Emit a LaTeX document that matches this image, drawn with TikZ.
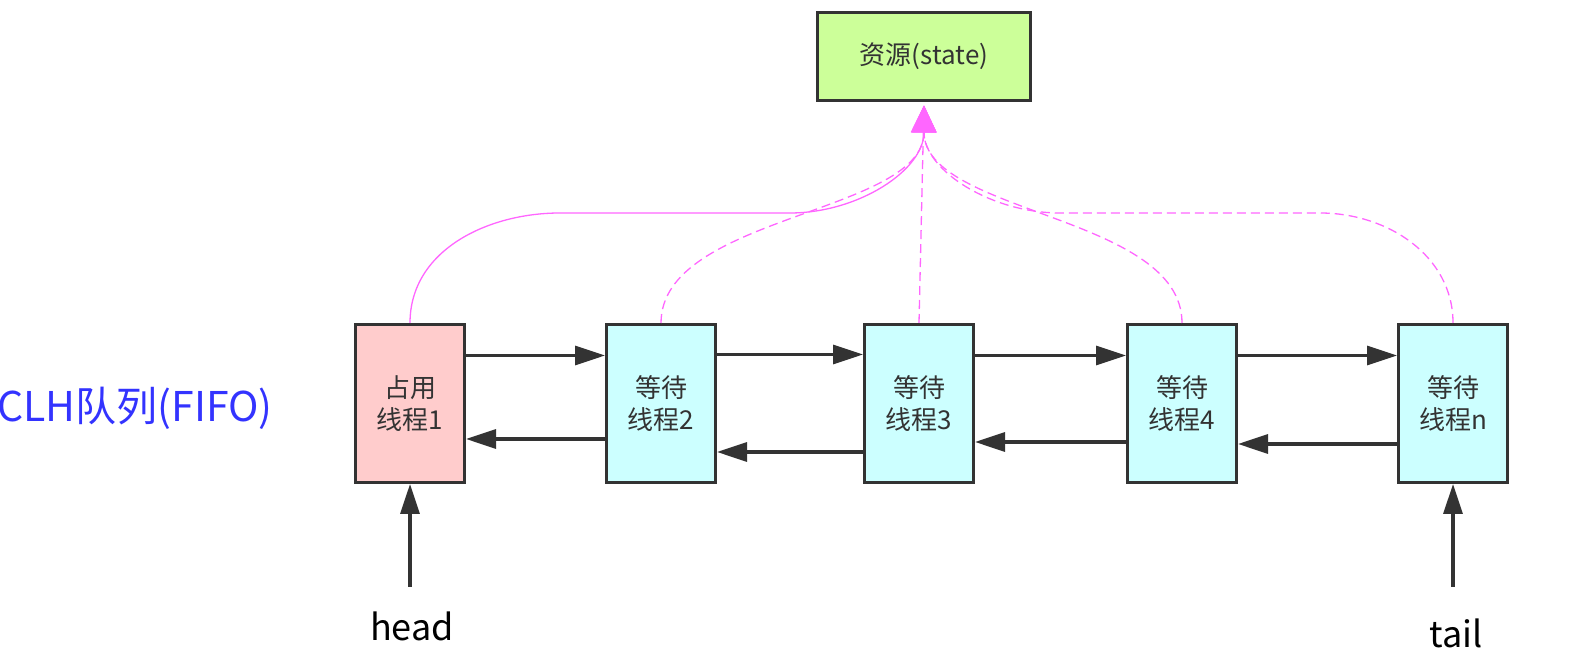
\documentclass[tikz,border=0pt]{standalone}
\usepackage{fontspec}
\newfontfamily\cjk{Noto Sans CJK SC}
\usepackage{xcolor}
\usepackage{tikz}
\usetikzlibrary{arrows.meta,positioning}
\definecolor{inkgray}{HTML}{333333}
\definecolor{occfill}{HTML}{FFCCCC}
\definecolor{waitfill}{HTML}{CCFFFF}
\definecolor{resfill}{HTML}{CCFF99}
\definecolor{claimpink}{HTML}{FF66FF}
\definecolor{queueblue}{HTML}{3333FF}

\begin{document}
\begin{tikzpicture}[
  x=0.5pt, y=-0.5pt,
  every node/.style={font=\cjk\fontsize{13}{16}\selectfont, text=inkgray},
  thread/.style={draw=inkgray, line width=1.5pt, align=center, minimum width=54.5pt, minimum height=79pt, inner sep=0pt},
  occbox/.style={thread, fill=occfill},
  waitbox/.style={thread, fill=waitfill},
  resbox/.style={draw=inkgray, line width=1.5pt, fill=resfill, minimum width=106.5pt, minimum height=44pt, inner sep=0pt},
  ptr/.style={-{Triangle[length=15pt,width=9.5pt]}, draw=inkgray, line width=1.6pt},
  claim/.style={-{Triangle[length=13.5pt,width=12.5pt]}, draw=claimpink, line width=0.65pt, shorten >=1.75pt},
  waitclaim/.style={claim, dash pattern=on 4.5pt off 2.5pt},
  endlabel/.style={font=\cjk\fontsize{18}{20}\selectfont, text=black}
]
\useasboundingbox (0,0) rectangle (1584,672);

\node[resbox] (res) at (924,56.5) {资源(state)};
\node[occbox] (occ) at (410,403.5) {占用\\线程1};
\node[waitbox, right=69.5pt of occ] (w2) {等待\\线程2};
\node[waitbox, right=73pt of w2] (w3) {等待\\线程3};
\node[waitbox, right=75.5pt of w3] (w4) {等待\\线程4};
\node[waitbox, right=79.5pt of w4] (wn) {等待\\线程n};
\node[anchor=west, inner sep=0pt, text=queueblue, font=\cjk\fontsize{20.5}{24}\selectfont] (clh) at (-3,408) {CLH队列(FIFO)};

\draw[ptr] ([yshift=24pt]occ.east) -- ([yshift=24pt]w2.west);
\draw[ptr] ([yshift=24.5pt]w2.east) -- ([yshift=24.5pt]w3.west);
\draw[ptr] ([yshift=24pt]w3.east) -- ([yshift=24pt]w4.west);
\draw[ptr] ([yshift=24pt]w4.east) -- ([yshift=24pt]wn.west);
\draw[ptr] ([yshift=-17.75pt]w2.west) -- ([yshift=-17.75pt]occ.east);
\draw[ptr] ([yshift=-24.25pt]w3.west) -- ([yshift=-24.25pt]w2.east);
\draw[ptr] ([yshift=-19.25pt]w4.west) -- ([yshift=-19.25pt]w3.east);
\draw[ptr] ([yshift=-20.25pt]wn.west) -- ([yshift=-20.25pt]w4.east);

\coordinate (headfoot) at (occ.south |- 0,587);
\coordinate (tailfoot) at (wn.south |- 0,587);
\draw[ptr] (headfoot) -- (occ.south);
\draw[ptr] (tailfoot) -- (wn.south);
\node[endlabel] (headlbl) at ([xshift=1pt]occ.south |- 0,626) {head};
\node[endlabel] (taillbl) at ([xshift=1.5pt]wn.south |- 0,633) {tail};

\draw[claim] (occ.north) to[out=90,in=180] (560,213) -- (790,213) to[out=0,in=-90] (res.south);
\draw[waitclaim] (w2.north) .. controls +(0,-108) and +(0,112) .. (res.south);
\draw[waitclaim] (w3.north) -- (res.south);
\draw[waitclaim] (w4.north) .. controls +(0,-108) and +(0,112) .. (res.south);
\draw[waitclaim] (wn.north) to[out=90,in=0] (1320,213) -- (1060,213) to[out=180,in=-90] (res.south);
\end{tikzpicture}
\end{document}
